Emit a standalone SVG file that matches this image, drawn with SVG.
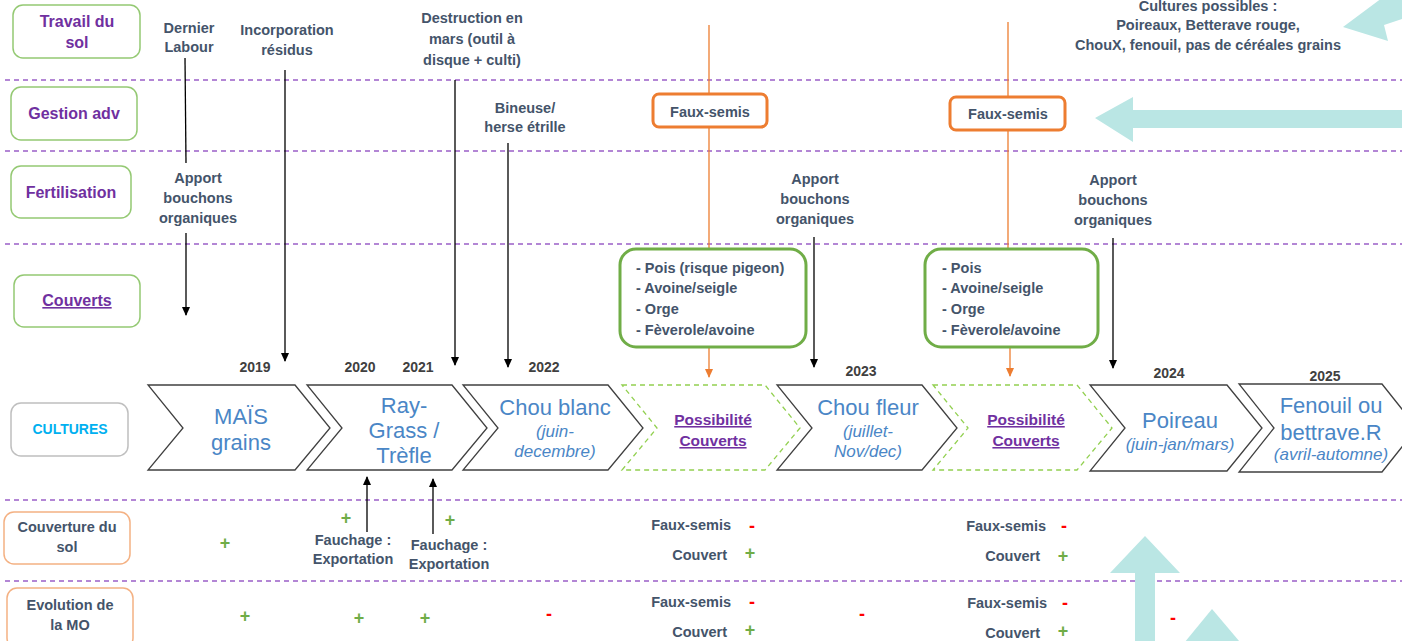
<svg xmlns="http://www.w3.org/2000/svg" width="1402" height="641" viewBox="0 0 1402 641">
<style>
text{font-family:"Liberation Sans",Arial,sans-serif}
.lab{font-size:16px;font-weight:bold;fill:#7030a0;text-anchor:middle}
.labg{font-size:14.5px;font-weight:bold;fill:#44546a;text-anchor:middle}
.gbox{fill:#fff;stroke:#94c973;stroke-width:1.5}
.obox{fill:#fff;stroke:#f4b183;stroke-width:1.5}
.ann{font-size:14.5px;font-weight:bold;fill:#44546a;text-anchor:middle}
.annr{font-size:14.5px;font-weight:bold;fill:#44546a;text-anchor:end}
.yr{font-size:14px;font-weight:bold;fill:#404040;text-anchor:middle}
.crop{font-size:22px;fill:#4a86c6;text-anchor:middle}
.sub{font-size:17px;font-style:italic;fill:#4a86c6;text-anchor:middle}
.poss{font-size:15.5px;font-weight:bold;fill:#7030a0;text-anchor:middle;text-decoration:underline}
.chev{fill:#fff;stroke:#404040;stroke-width:1.3}
.chevd{fill:#fff;stroke:#92d050;stroke-width:1.3;stroke-dasharray:5 4}
.sep{stroke:#9b5fc8;stroke-width:1.3;stroke-dasharray:5 4}
.ar{stroke:#000;stroke-width:1.3;fill:none}
.or{stroke:#ed7d31;stroke-width:1.3;fill:none}
.plus{font-size:18px;font-weight:bold;fill:#70ad47;text-anchor:middle}
.minus{font-size:18px;font-weight:bold;fill:#ff0000;text-anchor:middle}
.cv{font-size:14.5px;font-weight:bold;fill:#44546a}
.big{fill:#bae6e4}
</style>
<defs>
<marker id="ab" markerWidth="10" markerHeight="10" refX="8" refY="5" orient="auto" markerUnits="userSpaceOnUse"><path d="M0,1 L9,5 L0,9 Z" fill="#000"/></marker>
<marker id="ao" markerWidth="10" markerHeight="10" refX="8" refY="5" orient="auto" markerUnits="userSpaceOnUse"><path d="M0,1 L9,5 L0,9 Z" fill="#ed7d31"/></marker>
</defs>
<rect width="1402" height="641" fill="#fff"/>

<g id="separators">
<line class="sep" x1="5" y1="80" x2="1402" y2="80"/>
<line class="sep" x1="5" y1="151" x2="1402" y2="151"/>
<line class="sep" x1="5" y1="244" x2="1402" y2="244"/>
<line class="sep" x1="5" y1="500" x2="1402" y2="500"/>
<line class="sep" x1="5" y1="581" x2="1402" y2="581"/>
</g>

<g id="big-arrows">
<polygon class="big" points="1343,27 1382,-2 1402,-2 1402,19 1384,25 1388,41"/>
<polygon class="big" points="1095,118 1133,97 1133,110 1402,110 1402,128 1133,128 1133,142"/>
<polygon class="big" points="1145,536 1180,573 1155,573 1155,645 1135,645 1135,573 1110,573"/>
<polygon class="big" points="1212,609 1245,648 1180,648"/>
</g>

<g id="row-labels">
<g id="lab-travail"><rect class="gbox" x="13" y="5" width="127" height="53" rx="10"/><text class="lab" x="77" y="27">Travail du</text><text class="lab" x="77" y="48">sol</text></g>
<g id="lab-gestion"><rect class="gbox" x="11" y="87" width="126" height="53" rx="10"/><text class="lab" x="74" y="119">Gestion adv</text></g>
<g id="lab-ferti"><rect class="gbox" x="11" y="166" width="120" height="52" rx="10"/><text class="lab" x="71" y="198">Fertilisation</text></g>
<g id="lab-couverts"><rect class="gbox" x="14" y="275" width="126" height="52" rx="10"/><text class="lab" x="77" y="306" style="text-decoration:underline">Couverts</text></g>
<g id="lab-cultures"><rect x="11" y="403" width="117" height="53" rx="10" fill="#fff" stroke="#bfbfbf" stroke-width="1.5"/><text x="70" y="434" style="font-size:14px;font-weight:bold;fill:#00b0f0;text-anchor:middle">CULTURES</text></g>
<g id="lab-couverture"><rect class="obox" x="4" y="512" width="126" height="52" rx="10"/><text class="labg" x="67" y="532">Couverture du</text><text class="labg" x="67" y="552">sol</text></g>
<g id="lab-evolution"><rect class="obox" x="7" y="588" width="126" height="60" rx="10"/><text class="labg" x="70" y="610">Evolution de</text><text class="labg" x="70" y="630">la MO</text></g>
</g>

<g id="connectors">
<line class="ar" x1="185" y1="58" x2="186" y2="163"/>
<line class="ar" x1="186" y1="233" x2="186" y2="315" marker-end="url(#ab)"/>
<line class="ar" x1="285" y1="70" x2="285" y2="361" marker-end="url(#ab)"/>
<line class="ar" x1="455" y1="80" x2="455" y2="365" marker-end="url(#ab)"/>
<line class="ar" x1="508" y1="143" x2="508" y2="367" marker-end="url(#ab)"/>
<line class="ar" x1="814" y1="237" x2="814" y2="367" marker-end="url(#ab)"/>
<line class="ar" x1="1113" y1="238" x2="1113" y2="368" marker-end="url(#ab)"/>
<line class="ar" x1="367" y1="532" x2="367" y2="477" marker-end="url(#ab)"/>
<line class="ar" x1="433" y1="534" x2="433" y2="479" marker-end="url(#ab)"/>
<line class="or" x1="709" y1="25" x2="709" y2="95"/>
<line class="or" x1="709" y1="127" x2="709" y2="249"/>
<line class="or" x1="709" y1="347" x2="709" y2="377" marker-end="url(#ao)"/>
<line class="or" x1="1008" y1="22" x2="1008" y2="97"/>
<line class="or" x1="1008" y1="130" x2="1008" y2="249"/>
<line class="or" x1="1010" y1="347" x2="1010" y2="376" marker-end="url(#ao)"/>
</g>

<g id="annotations">
<g id="ann-labour"><text class="ann" x="189" y="33">Dernier</text><text class="ann" x="189" y="52">Labour</text></g>
<g id="ann-incorp"><text class="ann" x="287" y="35">Incorporation</text><text class="ann" x="287" y="55">résidus</text></g>
<g id="ann-destruction"><text class="ann" x="472" y="23">Destruction en</text><text class="ann" x="472" y="44">mars (outil à</text><text class="ann" x="472" y="65">disque + culti)</text></g>
<g id="ann-bineuse"><text class="ann" x="525" y="113">Bineuse/</text><text class="ann" x="525" y="132">herse étrille</text></g>
<g id="ann-apport1"><text class="ann" x="198" y="183">Apport</text><text class="ann" x="198" y="203">bouchons</text><text class="ann" x="198" y="223">organiques</text></g>
<g id="ann-apport2"><text class="ann" x="815" y="184">Apport</text><text class="ann" x="815" y="204">bouchons</text><text class="ann" x="815" y="224">organiques</text></g>
<g id="ann-apport3"><text class="ann" x="1113" y="185">Apport</text><text class="ann" x="1113" y="205">bouchons</text><text class="ann" x="1113" y="225">organiques</text></g>
<g id="ann-cultures-possibles"><text class="ann" x="1208" y="11">Cultures possibles :</text><text class="ann" x="1208" y="30">Poireaux, Betterave rouge,</text><text class="ann" x="1208" y="50">ChouX, fenouil, pas de céréales grains</text></g>
</g>

<g id="fauxsemis1"><rect x="653" y="94" width="114" height="33" rx="6" fill="#fff" stroke="#ed7d31" stroke-width="3"/><text class="ann" x="710" y="117">Faux-semis</text></g>
<g id="fauxsemis2"><rect x="950" y="97" width="115" height="33" rx="6" fill="#fff" stroke="#ed7d31" stroke-width="3"/><text class="ann" x="1008" y="119">Faux-semis</text></g>

<g id="couverts1"><rect x="620" y="249" width="186" height="98" rx="16" fill="#fff" stroke="#70ad47" stroke-width="3"/>
<text class="cv" x="636" y="273">- Pois (risque pigeon)</text><text class="cv" x="636" y="293">- Avoine/seigle</text><text class="cv" x="636" y="314">- Orge</text><text class="cv" x="636" y="335">- Fèverole/avoine</text></g>
<g id="couverts2"><rect x="925" y="249" width="173" height="98" rx="16" fill="#fff" stroke="#70ad47" stroke-width="3"/>
<text class="cv" x="942" y="273">- Pois</text><text class="cv" x="942" y="293">- Avoine/seigle</text><text class="cv" x="942" y="314">- Orge</text><text class="cv" x="942" y="335">- Fèverole/avoine</text></g>

<g id="years">
<text class="yr" x="255" y="372">2019</text>
<text class="yr" x="360" y="372">2020</text>
<text class="yr" x="418" y="372">2021</text>
<text class="yr" x="544" y="372">2022</text>
<text class="yr" x="861" y="376">2023</text>
<text class="yr" x="1169" y="378">2024</text>
<text class="yr" x="1325" y="381">2025</text>
</g>

<g id="chev-mais"><path class="chev" d="M148,385 L295,385 L330,428 L295,470 L148,470 L183,428 Z"/><text class="crop" x="241" y="424">MAÏS</text><text class="crop" x="241" y="450">grains</text></g>
<g id="chev-raygrass"><path class="chev" d="M307,385 L452,385 L487,428 L452,470 L307,470 L342,428 Z"/><text class="crop" x="404" y="413">Ray-</text><text class="crop" x="404" y="438">Grass /</text><text class="crop" x="404" y="463">Trèfle</text></g>
<g id="chev-choublanc"><path class="chev" d="M463,385 L608,385 L643,428 L608,470 L463,470 L498,428 Z"/><text class="crop" x="555" y="415">Chou blanc</text><text class="sub" x="555" y="437">(juin-</text><text class="sub" x="555" y="457">decembre)</text></g>
<g id="chev-poss1"><path class="chevd" d="M622,385 L765,385 L800,428 L765,470 L622,470 L657,428 Z"/><text class="poss" x="713" y="425">Possibilité</text><text class="poss" x="713" y="446">Couverts</text></g>
<g id="chev-choufleur"><path class="chev" d="M777,385 L922,385 L957,428 L922,470 L777,470 L812,428 Z"/><text class="crop" x="868" y="415">Chou fleur</text><text class="sub" x="868" y="437">(juillet-</text><text class="sub" x="868" y="457">Nov/dec)</text></g>
<g id="chev-poss2"><path class="chevd" d="M933,385 L1077,385 L1112,428 L1077,470 L933,470 L968,428 Z"/><text class="poss" x="1026" y="425">Possibilité</text><text class="poss" x="1026" y="446">Couverts</text></g>
<g id="chev-poireau"><path class="chev" d="M1090,385 L1227,385 L1262,428 L1227,471 L1090,471 L1125,428 Z"/><text class="crop" x="1180" y="428">Poireau</text><text class="sub" x="1180" y="450">(juin-jan/mars)</text></g>
<g id="chev-fenouil"><path class="chev" d="M1239,384 L1382,384 L1417,428 L1382,472 L1239,472 L1274,428 Z"/><text class="crop" x="1331" y="413">Fenouil ou</text><text class="crop" x="1331" y="440">bettrave.R</text><text class="sub" x="1331" y="460">(avril-automne)</text></g>

<g id="couverture-row">
<text class="plus" x="225" y="549">+</text>
<text class="plus" x="346" y="524">+</text>
<text class="plus" x="450" y="526">+</text>
<text class="ann" x="353" y="545">Fauchage :</text><text class="ann" x="353" y="564">Exportation</text>
<text class="ann" x="449" y="550">Fauchage :</text><text class="ann" x="449" y="569">Exportation</text>
<text class="annr" x="731" y="530">Faux-semis</text><text class="minus" x="752" y="532">-</text>
<text class="annr" x="727" y="560">Couvert</text><text class="plus" x="750" y="559">+</text>
<text class="annr" x="1046" y="531">Faux-semis</text><text class="minus" x="1064" y="532">-</text>
<text class="annr" x="1040" y="561">Couvert</text><text class="plus" x="1063" y="562">+</text>
</g>

<g id="evolution-row">
<text class="plus" x="245" y="622">+</text>
<text class="plus" x="359" y="624">+</text>
<text class="plus" x="425" y="624">+</text>
<text class="minus" x="549" y="620">-</text>
<text class="annr" x="731" y="607">Faux-semis</text><text class="minus" x="752" y="608">-</text>
<text class="annr" x="727" y="637">Couvert</text><text class="plus" x="750" y="636">+</text>
<text class="minus" x="862" y="620">-</text>
<text class="annr" x="1047" y="608">Faux-semis</text><text class="minus" x="1065" y="609">-</text>
<text class="annr" x="1040" y="638">Couvert</text><text class="plus" x="1063" y="637">+</text>
<text class="minus" x="1173" y="624">-</text>
</g>
</svg>
